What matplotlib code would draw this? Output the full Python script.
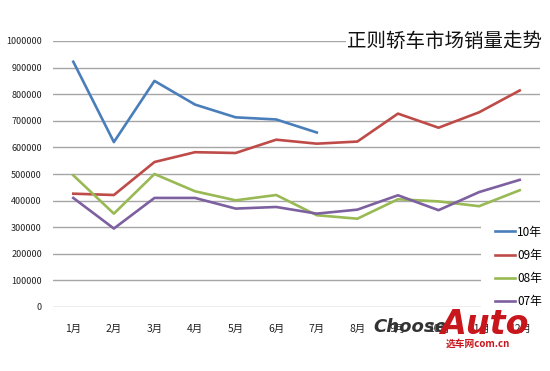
import matplotlib
matplotlib.use("Agg")
import matplotlib.pyplot as plt
from matplotlib.patches import Rectangle

plt.rcParams['font.family'] = ['Noto Sans CJK SC', 'DejaVu Sans']

months = ["1月", "2月", "3月", "4月", "5月", "6月", "7月", "8月", "9月", "10月", "11月", "12月"]
sales_10 = [922000, 620000, 850000, 761000, 713000, 705000, 656000]
sales_09 = [426000, 421000, 545000, 582000, 579000, 629000, 614000, 622000, 727000, 674000, 732000, 814000]
sales_08 = [495000, 351000, 500000, 435000, 401000, 421000, 345000, 332000, 405000, 397000, 379000, 439000]
sales_07 = [410000, 295000, 410000, 410000, 370000, 376000, 351000, 366000, 420000, 364000, 432000, 478000]
series = [("10年", sales_10, "#4A7EBB"), ("09年", sales_09, "#BE4B48"),
          ("08年", sales_08, "#98B954"), ("07年", sales_07, "#7D60A0")]
yticks = list(range(0, 1000001, 100000))

W, H = 550, 371
fig = plt.figure(figsize=(5.5, 3.71), dpi=100)
ax = fig.add_axes([53 / W, 1 - 307 / H, (540 - 53) / W, (307 - 41) / H])

for name, vals, col in series:
    ax.plot(range(len(vals)), vals, color=col, lw=1.9, label=name, zorder=3)

ax.set_xlim(-0.5, 11.5)
ax.set_ylim(0, 1000000)
ax.set_yticks(yticks)
ax.set_yticklabels([str(v) for v in yticks], fontsize=6.5, color="#222222")
ax.set_xticks(range(12))
ax.set_xticklabels(months, fontsize=7.5, color="#222222")
ax.tick_params(length=0, axis="y", pad=8)
ax.tick_params(length=0, axis="x", pad=12)
ax.grid(axis="y", color="#A6A6A6", lw=1, zorder=0)
ax.set_axisbelow(True)
for s in ax.spines.values():
    s.set_visible(False)

# white area behind the legend hides the lower gridlines
ax.add_patch(Rectangle((481 / W, 1 - 312 / H), 70 / W, 95 / H, transform=fig.transFigure,
                       facecolor="white", edgecolor="none", zorder=1.5, clip_on=False))
leg = ax.legend(loc="upper left", bbox_to_anchor=(484 / W, 1 - 215 / H), bbox_transform=fig.transFigure,
                frameon=False, fontsize=8.5, handlelength=1.7, handletextpad=0.2, labelspacing=0.85)

fig.text(347 / W, 1 - 41 / H, "正则轿车市场销量走势", fontsize=14, va="center", ha="left", color="#111111",
         bbox=dict(facecolor="white", edgecolor="none", pad=1))

# watermark
fig.text(373 / W, 1 - 327 / H, "Choose", fontsize=13, fontweight="bold", style="italic",
         color="#333333", family="DejaVu Sans", va="center")
fig.text(440 / W, 1 - 325 / H, "Auto", fontsize=24, fontweight="bold", style="italic",
         color="#C8161D", family="DejaVu Sans", va="center")
fig.text(446 / W, 1 - 344 / H, "选车网com.cn", fontsize=7, fontweight="bold",
         color="#C8161D", va="center")

fig.savefig("out.png", dpi=100)
